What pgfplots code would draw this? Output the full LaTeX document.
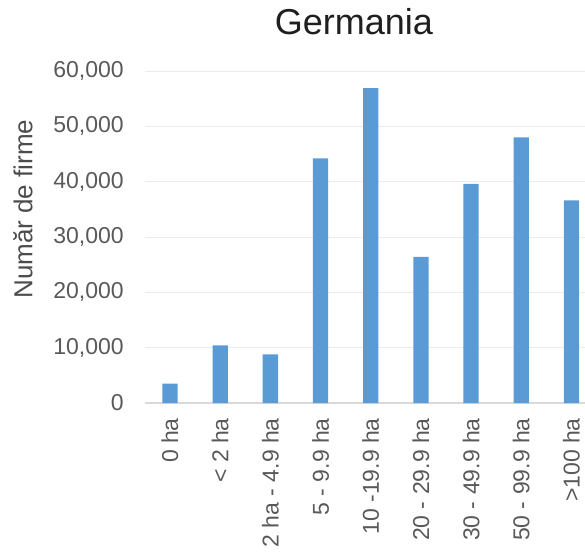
\documentclass[border=0pt]{standalone}
\usepackage{pgfplots}
\pgfplotsset{compat=1.18}
\usepackage{fontspec}
\setmainfont{Liberation Sans}
\definecolor{barblue}{HTML}{5B9BD5}
\definecolor{ticktext}{HTML}{595959}
\definecolor{gridc}{HTML}{EBEBEB}
\definecolor{basec}{HTML}{D9D9D9}
\begin{document}
\begin{tikzpicture}
\path[use as bounding box] (0,0) rectangle (585bp,555bp);
\begin{axis}[
  at={(144.9bp,152bp)}, anchor=south west,
  scale only axis, width=440.1bp, height=332bp,
  xmin=-0.5, xmax=8.27, ymin=0, ymax=60000,
  clip=false,
  axis line style={draw=none},
  major tick length=0pt,
  xtick={0,1,2,3,4,5,6,7,8},
  xticklabels={0 ha,< 2 ha,2 ha - 4.9 ha,5 - 9.9 ha,10 -19.9 ha,20 - 29.9 ha,30 - 49.9 ha,50 - 99.9 ha,>100 ha},
  xticklabel style={rotate=90, anchor=east, inner ysep=0pt, inner xsep=15bp, font=\fontsize{23bp}{26bp}\selectfont, text=ticktext},
  ytick={10000,20000,30000,40000,50000,60000},
  extra y ticks={0},
  extra y tick labels={0},
  extra y tick style={grid style={draw=basec, line width=1.2pt}},
  yticklabel style={anchor=east, inner sep=0pt, xshift=-21bp, font=\fontsize{23bp}{26bp}\selectfont, text=ticktext, /pgf/number format/.cd, 1000 sep={,}, assume math mode=true},
  scaled y ticks=false,
  ymajorgrids,
  grid style={draw=gridc, line width=0.9pt},
  ylabel={Număr de firme},
  ylabel style={at={(axis description cs:-0.277,0.584)}, anchor=center, font=\fontsize{26bp}{30bp}\selectfont, text=ticktext!85!black},
  title={Germania},
  title style={at={(axis description cs:0.475,1.1295)}, anchor=center, font=\fontsize{36bp}{40bp}\selectfont, text=black!88},
]
\addplot[ybar, bar width=15.3bp, fill=barblue, draw=none] coordinates {
  (0,3500) (1,10400) (2,8800) (3,44200) (4,56900) (5,26400) (6,39600) (7,48000) (8,36600)
};
\end{axis}
\end{tikzpicture}
\end{document}
